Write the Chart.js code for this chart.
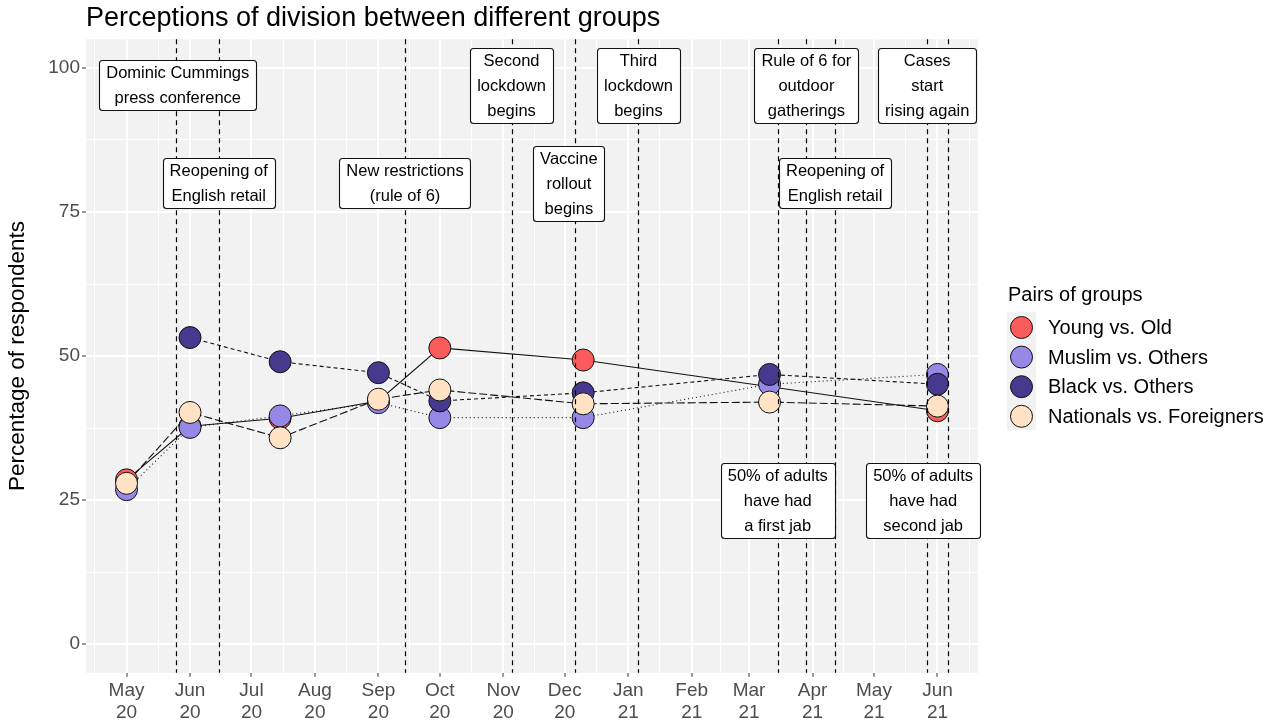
<!DOCTYPE html>
<html>
<head>
<meta charset="utf-8">
<script src="https://cdn.jsdelivr.net/npm/chart.js@4.4.0/dist/chart.umd.min.js"></script>
<style>
  html, body { margin: 0; padding: 0; background: #fff; }
  #chart { display: block; }
</style>
</head>
<body>
<canvas id="chart" width="1275" height="724"></canvas>
<script>
// survey waves and values (% of respondents)
const surveyDates = ['2020-05-01', '2020-06-01', '2020-07-15', '2020-09-01', '2020-10-01', '2020-12-10', '2021-03-11', '2021-06-01'];
const seriesNames = ['Young vs. Old', 'Muslim vs. Others', 'Black vs. Others', 'Nationals vs. Foreigners'];
const youngOld = [28.5, 37.8, 39.2, 42.2, 51.4, 49.3, null, 40.5];
const muslimOthers = [26.8, 37.6, 39.6, 41.9, 39.3, 39.3, 45.1, 46.8];
const blackOthers = [null, 53.2, 49.0, 47.1, 42.2, 43.6, 46.8, 45.1];
const nationalsForeigners = [27.9, 40.2, 35.8, 42.5, 44.1, 41.7, 42.0, 41.3];
const seriesColors = ['#fb5b5b', '#9688e6', '#473a8e', '#ffe3c4'];
const seriesDash = [[], [1, 3], [4, 3], [8, 3]];

// axis ticks
const xTickDates = ['2020-05-01', '2020-06-01', '2020-07-01', '2020-08-01', '2020-09-01', '2020-10-01', '2020-11-01',
  '2020-12-01', '2021-01-01', '2021-02-01', '2021-03-01', '2021-04-01', '2021-05-01', '2021-06-01'];
const xTickLabels = ['May 20', 'Jun 20', 'Jul 20', 'Aug 20', 'Sep 20', 'Oct 20', 'Nov 20',
  'Dec 20', 'Jan 21', 'Feb 21', 'Mar 21', 'Apr 21', 'May 21', 'Jun 21'];
const yTickValues = [0, 25, 50, 75, 100];

// events: dashed vertical lines and their labels
const eventDates = ['2020-05-25', '2020-06-15', '2020-09-14', '2020-11-05', '2020-12-06', '2021-01-06',
  '2021-03-15', '2021-03-29', '2021-04-12', '2021-05-27', '2021-06-06'];
const labelTexts = [
  ['Dominic Cummings', 'press conference'],
  ['Reopening of', 'English retail'],
  ['New restrictions', '(rule of 6)'],
  ['Second', 'lockdown', 'begins'],
  ['Vaccine', 'rollout', 'begins'],
  ['Third', 'lockdown', 'begins'],
  ['Rule of 6 for', 'outdoor', 'gatherings'],
  ['Reopening of', 'English retail'],
  ['Cases', 'start', 'rising again'],
  ['50% of adults', 'have had', 'a first jab'],
  ['50% of adults', 'have had', 'second jab']
];
const labelDates = ['2020-05-26', '2020-06-15', '2020-09-14', '2020-11-05', '2020-12-03', '2021-01-06',
  '2021-03-29', '2021-04-12', '2021-05-27', '2021-03-15', '2021-05-25'];
const labelLevels = [97, 80, 80, 97, 80, 97, 97, 80, 97, 25, 25];

const FONT = "'Liberation Sans', Arial, sans-serif";
Chart.defaults.font.family = FONT;

// days since epoch
function day(s) {
  return Date.UTC(+s.slice(0, 4), +s.slice(5, 7) - 1, +s.slice(8, 10)) / 864e5;
}

const first = day(surveyDates[0]);
const last = day(surveyDates[surveyDates.length - 1]);
const xPad = (last - first) * 0.05;

// major + minor (midpoint) ticks like ggplot
const xMajor = xTickDates.map(day);
const xTicks = xMajor.map((v, i) => ({ value: v, lbl: xTickLabels[i].split(' ') }));
xTicks.push({ value: xMajor[0] - (xMajor[1] - xMajor[0]) / 2, minor: true });
for (let i = 0; i < xMajor.length - 1; i++) {
  xTicks.push({ value: (xMajor[i] + xMajor[i + 1]) / 2, minor: true });
}
xTicks.push({ value: xMajor[xMajor.length - 1] + (xMajor[xMajor.length - 1] - xMajor[xMajor.length - 2]) / 2, minor: true });
xTicks.sort((a, b) => a.value - b.value);

const yTicks = yTickValues.map(v => ({ value: v, lbl: String(v) }));
for (let i = 0; i < yTickValues.length - 1; i++) {
  yTicks.push({ value: (yTickValues[i] + yTickValues[i + 1]) / 2, minor: true });
}
yTicks.sort((a, b) => a.value - b.value);

const allSeries = [youngOld, muslimOthers, blackOthers, nationalsForeigners];

function toPoints(vals) {
  return surveyDates.map((d, i) => ({ x: day(d), y: vals[i] }));
}

const datasets = [];
// lines under every point
allSeries.forEach((vals, i) => {
  datasets.push({
    label: seriesNames[i] + ' line',
    data: toPoints(vals),
    borderColor: '#111',
    borderWidth: 1.1,
    borderDash: seriesDash[i],
    pointRadius: 0,
    spanGaps: true,
    fill: false,
    order: 10 + i
  });
});
// points
allSeries.forEach((vals, i) => {
  datasets.push({
    label: seriesNames[i],
    data: toPoints(vals),
    showLine: false,
    pointRadius: 11,
    pointHoverRadius: 11,
    pointBackgroundColor: seriesColors[i],
    pointBorderColor: '#111',
    pointBorderWidth: 1,
    order: 4 - i
  });
});

const isMinor = ctx => ctx.tick && ctx.tick.minor;

const backgroundPlugin = {
  id: 'panelBg',
  beforeDraw(chart) {
    const { ctx, chartArea: a } = chart;
    ctx.save();
    ctx.fillStyle = '#fff';
    ctx.fillRect(0, 0, chart.width, chart.height);
    ctx.fillStyle = '#f2f2f2';
    ctx.fillRect(a.left, a.top, a.right - a.left, a.bottom - a.top);
    ctx.restore();
  }
};

const eventsPlugin = {
  id: 'events',
  afterDatasetsDraw(chart) {
    const { ctx, chartArea: a, scales } = chart;
    const xs = scales.x, ys = scales.y;
    ctx.save();
    // vertical event lines
    ctx.strokeStyle = '#000';
    ctx.lineWidth = 1.2;
    ctx.setLineDash([5, 4]);
    eventDates.forEach(d => {
      const x = Math.round(xs.getPixelForValue(day(d))) + 0.5;
      ctx.beginPath();
      ctx.moveTo(x, a.top);
      ctx.lineTo(x, a.bottom);
      ctx.stroke();
    });
    ctx.setLineDash([]);
    // labels
    ctx.font = '16.5px ' + FONT;
    ctx.textAlign = 'center';
    ctx.textBaseline = 'middle';
    labelTexts.forEach((lines, i) => {
      const cx = xs.getPixelForValue(day(labelDates[i]));
      const cy = ys.getPixelForValue(labelLevels[i]);
      const w = Math.max(...lines.map(t => ctx.measureText(t).width)) + 14;
      const h = lines.length * 25;
      const left = Math.round(cx - w / 2) + 0.5;
      const top = Math.round(cy - h / 2) + 0.5;
      ctx.beginPath();
      ctx.roundRect(left, top, Math.round(w), h, 3);
      ctx.fillStyle = '#fff';
      ctx.fill();
      ctx.strokeStyle = '#111';
      ctx.lineWidth = 1.1;
      ctx.stroke();
      ctx.fillStyle = '#000';
      lines.forEach((t, k) => ctx.fillText(t, cx, top + 13 + k * 25));
    });
    ctx.restore();
  }
};

const legendPlugin = {
  id: 'ggLegend',
  afterDraw(chart) {
    const { ctx } = chart;
    ctx.save();
    ctx.fillStyle = '#000';
    ctx.font = '20px ' + FONT;
    ctx.textAlign = 'left';
    ctx.textBaseline = 'middle';
    ctx.fillText('Pairs of groups', 1008, 295);
    ctx.fillStyle = '#f2f2f2';
    ctx.fillRect(1007, 312, 29, 118);
    seriesNames.forEach((name, i) => {
      const y = 327.5 + i * 29.6;
      ctx.beginPath();
      ctx.arc(1021.5, y, 11, 0, Math.PI * 2);
      ctx.fillStyle = seriesColors[i];
      ctx.fill();
      ctx.lineWidth = 1;
      ctx.strokeStyle = '#111';
      ctx.stroke();
      ctx.fillStyle = '#000';
      ctx.fillText(name, 1048, y + 1);
    });
    ctx.restore();
  }
};

new Chart(document.getElementById('chart').getContext('2d'), {
  type: 'line',
  data: { datasets: datasets },
  options: {
    responsive: false,
    animation: false,
    devicePixelRatio: 1,
    layout: { padding: { left: 0, right: 297, top: 0, bottom: 0 } },
    scales: {
      x: {
        type: 'linear',
        min: first - xPad,
        max: last + xPad,
        afterBuildTicks: s => { s.ticks = xTicks.map(t => Object.assign({}, t)); },
        afterFit: s => { s.height = 51.2; },
        border: { display: false },
        grid: {
          color: '#fff',
          lineWidth: ctx => isMinor(ctx) ? 1 : 2,
          tickColor: ctx => isMinor(ctx) ? 'rgba(0,0,0,0)' : '#333',
          tickLength: 4,
          tickWidth: 1
        },
        ticks: {
          autoSkip: false,
          maxRotation: 0,
          minRotation: 0,
          padding: 3,
          color: '#4d4d4d',
          font: { size: 19, lineHeight: 1.15 },
          callback: (v, i, ticks) => ticks[i].lbl || ''
        }
      },
      y: {
        type: 'linear',
        min: -5,
        max: 105,
        afterBuildTicks: s => { s.ticks = yTicks.map(t => Object.assign({}, t)); },
        afterFit: s => { s.width = 86; },
        border: { display: false },
        grid: {
          color: '#fff',
          lineWidth: ctx => isMinor(ctx) ? 1 : 2,
          tickColor: ctx => isMinor(ctx) ? 'rgba(0,0,0,0)' : '#333',
          tickLength: 4,
          tickWidth: 1
        },
        ticks: {
          autoSkip: false,
          padding: 2,
          color: '#4d4d4d',
          font: { size: 19 },
          callback: (v, i, ticks) => ticks[i].lbl || ''
        },
        title: {
          display: true,
          text: 'Percentage of respondents',
          color: '#000',
          font: { size: 22.5 },
          padding: { top: 4, bottom: 0 }
        }
      }
    },
    plugins: {
      legend: { display: false },
      tooltip: { enabled: false },
      title: {
        display: true,
        text: 'Perceptions of division between different groups',
        align: 'start',
        fullSize: false,
        color: '#000',
        font: { size: 27, weight: 'normal' },
        padding: { top: 2, bottom: 4.8 }
      }
    }
  },
  plugins: [backgroundPlugin, eventsPlugin, legendPlugin]
});
</script>
</body>
</html>
